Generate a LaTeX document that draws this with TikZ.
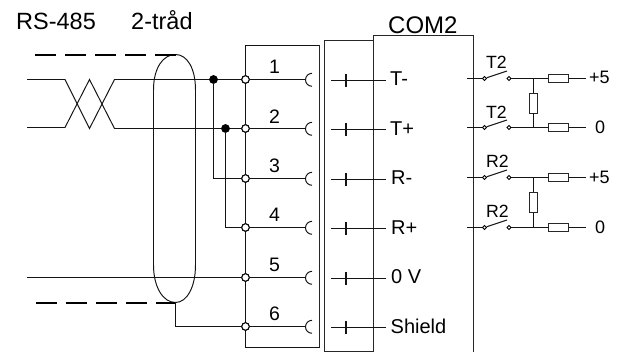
\documentclass[tikz,border=0pt]{standalone}
\usepackage{fontspec}
\setmainfont{Liberation Sans}
\newcommand{\fs}[1]{\fontsize{#1}{#1}\selectfont}
\tikzset{
  wire/.style={draw=black!92,line width=0.98pt},
  boxline/.style={draw=black!85,line width=0.98pt},
  shieldline/.style={draw=black,line width=2.05pt,dash pattern=on 21pt off 9pt},
  term/.style={circle,draw=black,fill=white,line width=1pt,inner sep=0pt,minimum size=7.5pt},
  dot/.style={circle,fill=black,inner sep=0pt,minimum size=8.5pt},
  contact/.style={circle,draw=black,fill=white,line width=0.9pt,inner sep=0pt,minimum size=3.8pt},
  res/.style={draw=black!85,fill=white,line width=0.98pt,inner sep=0pt,minimum width=20.5pt,minimum height=8pt},
  vres/.style={draw=black!85,fill=white,line width=0.98pt,inner sep=0pt,minimum width=8.5pt,minimum height=20pt},
  lab/.style={inner sep=0pt,anchor=base west,text=black},
  num/.style={inner sep=0pt,anchor=base,text=black,font=\fs{19.5}},
  pin/.style={lab,font=\fs{20}},
  sw/.style={inner sep=0pt,anchor=base,text=black,font=\fs{17.7}},
  sup/.style={inner sep=0pt,anchor=base west,text=black,font=\fs{18}}
}
\begin{document}
\begin{tikzpicture}[x=1pt,y=-1pt]
\useasboundingbox (0,0) rectangle (619,352);
% titles
\node[lab,font=\fs{23.5}] (ttlA) at (16,30) {RS-485};
\node[lab,font=\fs{23.5}] (ttlB) at (131,30) {2-tråd};
\node[lab,font=\fs{24}] (ttlC) at (388,33.5) {COM2};
% boxes
\draw[boxline] (373.5,352) -- (373.5,35) -- (473,35) -- (473,352);
\draw[boxline] (373.5,40) -- (324.5,40) -- (324.5,351) -- (373.5,351);
\draw[wire] (319.5,45) -- (245.5,45) -- (245.5,347) -- (319.5,347);
\draw[boxline] (319.5,45) -- (319.5,347);
% free ends
\coordinate (w1) at (27,79.5);
\coordinate (x1) at (65,79.5);
\coordinate (w2) at (27,127.5);
\coordinate (x2) at (65,127.5);
\coordinate (xb) at (89.5,128.5);
\coordinate (xt) at (89.5,79.5);
\coordinate (y1) at (114.5,79.5);
\coordinate (y2) at (114.5,128.5);
\coordinate (w5) at (27,277.5);
% terminals
\foreach \i/\yy in {1/79.5,2/128.5,3/178.5,4/227.5,5/277.5,6/326.5}{
  \coordinate (c\i) at (305.5,\yy);
  \node[term] (t\i) at (245.5,\yy) {};
  \draw[wire] (t\i) -- (c\i);
  \draw[wire] (312,\yy-6.2) arc[start angle=90,end angle=270,radius=6.5pt];
}
\foreach \i/\yy in {1/74,2/123.5,3/173,4/222,5/272,6/321}{
  \node[num] (n\i) at (274.5,\yy) {\i};
}
% twisted pair
\draw[wire] (w1) -- (x1) -- (xb) -- (y1) -- (t1);
\draw[wire] (w2) -- (x2) -- (xt) -- (y2) -- (t2);
\node[dot] (d1) at (213.5,79.5) {};
\node[dot] (d2) at (225.5,128.5) {};
\draw[wire] (d1) -- (213.5,178.5) -- (t3);
\draw[wire] (d2) -- (225.5,227.5) -- (t4);
\draw[wire] (w5) -- (t5);
% shield oval
\coordinate (st) at (175.5,54.5);
\coordinate (sb) at (175.5,302.5);
\draw[wire] (153.5,90) .. controls (153.5,68) and (163,54.5) .. (st) .. controls (187,54.5) and (195.5,68) .. (195.5,90) -- (195.5,265) .. controls (195.5,287) and (187,302.5) .. (sb) .. controls (163,302.5) and (153.5,287) .. (153.5,265) -- cycle;
\foreach \i/\yy in {1/79.5,2/128.5,3/178.5,4/227.5,5/277.5,6/326.5}{\node[term] at (t\i) {};}
\node[dot] at (d1) {};
\node[dot] at (d2) {};
\coordinate (ds1) at (35,55);
\coordinate (de1) at (175.5,55);
\coordinate (ds2) at (36,302.9);
\coordinate (de2) at (175.5,302.9);
\draw[shieldline] (ds1) -- (de1);
\draw[shieldline] (ds2) -- (de2);
\draw[wire] (sb) -- (175.5,326.5) -- (t6);
% pins on connector
\foreach \i/\yy in {1/80.5,2/129.5,3/179.5,4/228.5,5/278.5,6/327.5}{
  \coordinate (pa\i) at (331,\yy);
  \coordinate (pb\i) at (386,\yy);
  \draw[wire] (pa\i) -- (pb\i);
  \draw[wire,line width=1.5pt] (346,\yy-6) -- (346,\yy+7);
}
\node[pin] (p1) at (390,86) {T-};
\node[pin] (p2) at (390,135.7) {T+};
\node[pin] (p3) at (391,185) {R-};
\node[pin] (p4) at (391,234.7) {R+};
\node[pin] (p5) at (391,284) {0 V};
\node[pin] (p6) at (390.5,334) {Shield};
% relay outputs
\foreach \r/\yy in {a/78.5,b/127.5,c/177.5,d/227.5}{
  \coordinate (l\r) at (467,\yy);
  \coordinate (e\r) at (586,\yy);
  \coordinate (j\r) at (533.5,\yy);
  \node[contact] (k\r) at (484.5,\yy) {};
  \node[contact] (m\r) at (509,\yy) {};
  \node[res] (r\r) at (558.5,\yy) {};
  \draw[wire] (l\r) -- (k\r);
  \draw[wire] (k\r) -- (507,\yy-7.5);
  \draw[wire] (m\r) -- (r\r) -- (e\r);
}
\node[vres] (v1) at (533.5,103) {};
\node[vres] (v2) at (533.5,202.5) {};
\draw[wire] (ja) -- (v1) -- (jb);
\draw[wire] (jc) -- (v2) -- (jd);
\node[sw] (s1) at (496.5,69) {T2};
\node[sw] (s2) at (496.5,118.7) {T2};
\node[sw] (s3) at (497.5,168) {R2};
\node[sw] (s4) at (497.5,218) {R2};
\node[sup] (u1) at (589,84) {+5};
\node[sup] (u2) at (595,133.3) {0};
\node[sup] (u3) at (589,183.7) {+5};
\node[sup] (u4) at (595,233.3) {0};
\end{tikzpicture}
\end{document}
